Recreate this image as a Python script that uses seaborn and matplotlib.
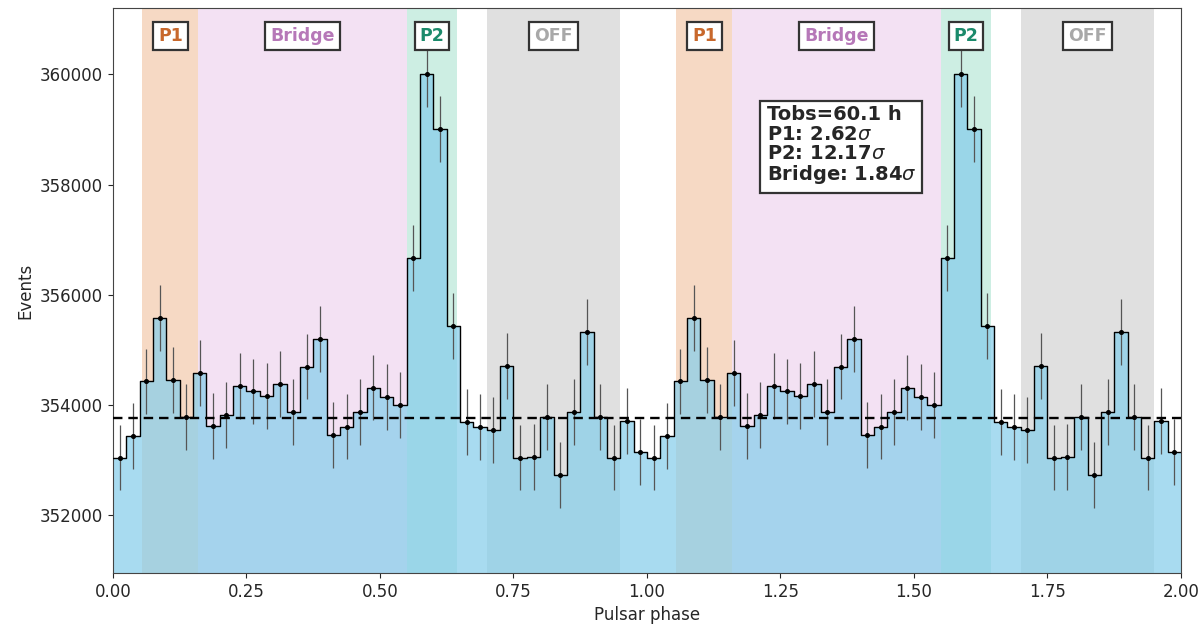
import numpy as np
import pandas as pd
import matplotlib
matplotlib.use("Agg")
import matplotlib.pyplot as plt
import seaborn as sns

# events per phase bin (40 bins over one rotation, shown twice)
counts = [353050, 353440, 354430, 355580, 354460, 353790, 354580, 353620,
          353820, 354350, 354250, 354170, 354390, 353880, 354700, 355200,
          353460, 353610, 353880, 354320, 354150, 354000, 356670, 360000,
          359000, 355440, 353700, 353600, 353550, 354710, 353050, 353060,
          353790, 352730, 353880, 355330, 353790, 353050, 353710, 353150]
n_periods = 2
off_level = 353770

region_names = ["P1", "Bridge", "P2", "OFF"]
region_lo = [0.055, 0.16, 0.55, 0.70]
region_hi = [0.16, 0.55, 0.645, 0.95]
region_fill = ["#f6d9c4", "#f3e1f3", "#cdeee3", "#e0e0e0"]
region_text = ["#c8682c", "#b678b8", "#1b8a6b", "#a8a8a8"]

stats_text = "Tobs=60.1 h\nP1: 2.62$\\sigma$\nP2: 12.17$\\sigma$\nBridge: 1.84$\\sigma$"

if __name__ == '__main__':
    sns.set_style("ticks")
    plt.rcParams['font.family'] = ['DejaVu Sans']

    n_bins = len(counts) * n_periods
    edges = np.linspace(0, n_periods, n_bins + 1)
    centers = (edges[:-1] + edges[1:]) / 2
    ev = np.tile(counts, n_periods)
    df = pd.DataFrame({'phase': centers, 'events': ev})

    fig, ax = plt.subplots(figsize=(12.02, 6.24), dpi=100)
    fig.subplots_adjust(left=0.094, right=0.9825, top=0.987, bottom=0.082)

    for p in range(n_periods):
        for name, lo, hi, fc, tc in zip(region_names, region_lo, region_hi,
                                        region_fill, region_text):
            ax.axvspan(lo + p, hi + p, color=fc, lw=0, zorder=0)
            ax.text((lo + hi) / 2 + p, 0.95, name, transform=ax.get_xaxis_transform(),
                    ha='center', va='center', color=tc, fontsize=12.5, fontweight='bold',
                    bbox=dict(boxstyle='square,pad=0.28', fc='white', ec='#333333', lw=1.6),
                    zorder=5)

    sns.histplot(data=df, x='phase', weights='events', bins=n_bins, binrange=(0, n_periods),
                 element='step', fill=True, color='#87ceeb', alpha=0.72, lw=0, ax=ax, zorder=1)
    sns.histplot(data=df, x='phase', weights='events', bins=n_bins, binrange=(0, n_periods),
                 element='step', fill=False, color='black', lw=1.0, ax=ax, zorder=3)
    ax.errorbar(df['phase'], df['events'], yerr=np.sqrt(df['events']), fmt='o',
                ms=2.6, color='black', ecolor='#555555', elinewidth=0.9, zorder=4)
    ax.axhline(off_level, ls=(0, (4, 2.5)), color='black', lw=1.7, zorder=4)

    ax.text(0.612, 0.828, stats_text, transform=ax.transAxes, ha='left', va='top',
            fontsize=14, fontweight='bold', linespacing=1.02,
            bbox=dict(boxstyle='square,pad=0.33', fc='white', ec='#333333', lw=1.6),
            zorder=6)

    ax.set_xlim(0, n_periods)
    ax.set_ylim(350960, 361200)
    ax.set_xticks(np.arange(0, 2.01, 0.25))
    ax.set_yticks([352000, 354000, 356000, 358000, 360000])
    ax.tick_params(labelsize=12)
    ax.set_xlabel("Pulsar phase", fontsize=12)
    ax.set_ylabel("Events", fontsize=12)
    for s in ax.spines.values():
        s.set_color('#444444')

    fig.savefig("out.png", dpi=100)
